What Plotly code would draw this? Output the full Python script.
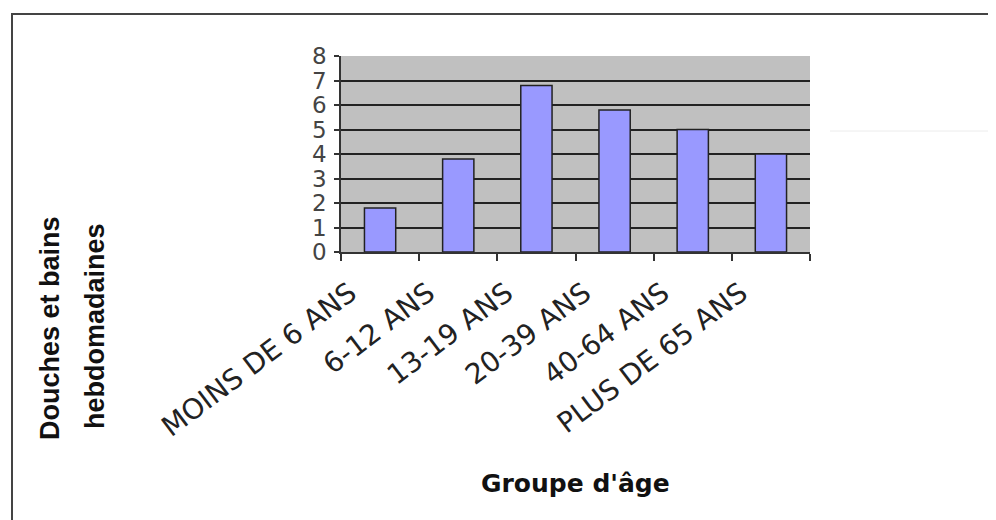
import plotly.graph_objects as go

# Data
categories = ["MOINS DE 6 ANS", "6-12 ANS", "13-19 ANS", "20-39 ANS", "40-64 ANS", "PLUS DE 65 ANS"]
values = [1.8, 3.8, 6.8, 5.8, 5.0, 4.0]
y_ticks = [0, 1, 2, 3, 4, 5, 6, 7, 8]
y_title_lines = ["Douches et bains", "hebdomadaines"]
x_title = "Groupe d'âge"

# page body has an 8px margin; figure sized to the visible area
OFF = 8
W, H = 996 - OFF, 520 - OFF
ML, MR, MT, MB = 341 - OFF, 996 - 810, 56 - OFF, 520 - 252
PW, PH = W - ML - MR, H - MT - MB


def px_x(x):
    return (x - OFF - ML) / PW


def px_y(y):
    return (H - MB - (y - OFF)) / PH


fig = go.Figure()
fig.add_trace(go.Bar(
    x=categories, y=values, width=0.4,
    marker=dict(color="#9999ff", line=dict(color="#222222", width=1.5)),
    hoverinfo="x+y",
))

fig.update_layout(
    width=W, height=H,
    margin=dict(l=ML, r=MR, t=MT, b=MB, autoexpand=False),
    paper_bgcolor="white",
    plot_bgcolor="#c0c0c0",
    showlegend=False,
    font=dict(family="DejaVu Sans", color="#222"),
    xaxis=dict(
        type="category", tickangle=-37, tickson="boundaries",
        ticks="outside", ticklen=7, tickwidth=1.5, tickcolor="#333",
        showline=True, linecolor="#333", linewidth=1.5,
        showgrid=False,
        tickfont=dict(family="DejaVu Sans", size=28, color="#222"),
        ticklabelshift=-30, ticklabelstandoff=12,
        automargin=False,
    ),
    yaxis=dict(
        range=[0, 8], tickvals=y_ticks,
        ticks="outside", ticklen=5, tickwidth=1.5, tickcolor="#333",
        showline=True, linecolor="#333", linewidth=1.5,
        showgrid=False,
        minor=dict(tickvals=y_ticks[1:-1], showgrid=True, gridcolor="#222",
                   gridwidth=1.5, ticks=""),
        zeroline=False,
        tickfont=dict(family="DejaVu Sans", size=23, color="#444"),
        ticklabelstandoff=3,
        automargin=False,
    ),
    annotations=[
        dict(text=y_title_lines[0], xref="paper", yref="paper",
             x=px_x(50), y=px_y(328), textangle=-90, showarrow=False,
             xanchor="center", yanchor="middle",
             font=dict(family="Liberation Sans", size=27, color="#111", weight="bold")),
        dict(text=y_title_lines[1], xref="paper", yref="paper",
             x=px_x(95), y=px_y(326), textangle=-90, showarrow=False,
             xanchor="center", yanchor="middle",
             font=dict(family="Liberation Sans", size=27, color="#111", weight="bold")),
        dict(text=x_title, xref="paper", yref="paper",
             x=px_x(575), y=px_y(483), showarrow=False,
             xanchor="center", yanchor="middle",
             font=dict(family="DejaVu Sans", size=25, color="#111", weight="bold")),
    ],
    shapes=[
        dict(type="rect", xref="paper", yref="paper",
             x0=px_x(12), x1=px_x(1010), y0=px_y(14), y1=px_y(530),
             line=dict(color="#444", width=2), fillcolor="rgba(0,0,0,0)", layer="above"),
        dict(type="line", xref="paper", yref="paper",
             x0=px_x(830), x1=px_x(990), y0=px_y(131), y1=px_y(131),
             line=dict(color="#ececec", width=1)),
    ],
)

fig.write_html("out.html")
